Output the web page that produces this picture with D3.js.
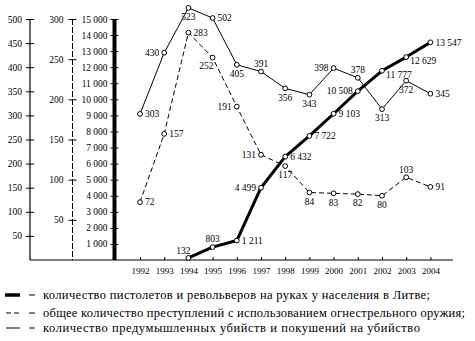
<!DOCTYPE html>
<html>
<head>
<meta charset="utf-8">
<script src="https://cdn.jsdelivr.net/npm/d3@7"></script>
<style>
  body { margin: 0; background: #fff; }
</style>
</head>
<body>
<div id="chart"></div>
<script>
// years on the bottom axis
var years = [1992, 1993, 1994, 1995, 1996, 1997, 1998, 1999, 2000, 2001, 2002, 2003, 2004];
// premeditated murders and attempts (left axis, 0-500)
var murders = [303, 430, 523, 502, 405, 391, 356, 343, 398, 378, 313, 372, 345];
// crimes with firearms (middle axis, 0-300)
var crimes = [72, 157, 283, 252, 191, 131, 117, 84, 83, 82, 80, 103, 91];
// pistols and revolvers held by population (thick axis, 0-15000)
var gunYears = [1994, 1995, 1996, 1997, 1998, 1999, 2000, 2001, 2002, 2003, 2004];
var guns = [132, 803, 1211, 4499, 6432, 7722, 9103, 10508, 11777, 12629, 13547];

var murderTicks = [50, 100, 150, 200, 250, 300, 350, 400, 450, 500];
var crimeTicks = [50, 100, 150, 200, 250, 300];
var gunTicks = d3.range(1000, 15001, 1000);

// where each value label sits relative to its point
var murderLabelPos = ['r', 'l', 'b', 'r', 'b', 't', 'b', 'b', 'l', 't', 'b', 'b', 'r'];
var crimeLabelPos = ['r', 'r', 'r', 'bl', 'l', 'l', 'b', 'b', 'b', 'b', 'b', 't', 'r'];
var gunLabelPos = ['tl', 't', 'r', 'l', 'r', 'r', 'r', 'l', 'br', 'br', 'r'];

var legendLabels = [
  "количество пистолетов и револьверов на руках у населения в Литве;",
  "общее количество преступлений с использованием огнестрельного оружия;",
  "количество предумышленных убийств и покушений на убийство"
];

var FONT = "'Liberation Serif', 'Times New Roman', serif";
var fmt = d3.formatLocale({decimal: ",", thousands: " ", grouping: [3], currency: ["", ""]}).format(",d");

var width = 475, height = 341;
var yTop = 19, yBottom = 260;

var svg = d3.select("#chart").append("svg")
  .attr("width", width)
  .attr("height", height)
  .style("font-family", FONT);

var x = d3.scaleLinear().domain([1992, 2004]).range([140, 430.4]);
var yMurders = d3.scaleLinear().domain([0, 500]).range([yBottom, yTop]);
var yCrimes = d3.scaleLinear().domain([0, 300]).range([yBottom, yTop]);
var yGuns = d3.scaleLinear().domain([0, 15000]).range([yBottom, yTop]);

// vertical axes with ticks crossing the line
function drawAxis(xpos, scale, ticks, labelX, format, lineStyle) {
  var g = svg.append("g").attr("transform", "translate(" + xpos + ",0)");
  g.call(d3.axisLeft(scale).tickValues(ticks).tickSizeOuter(0).tickFormat(format));
  g.select(".domain").remove();
  g.selectAll(".tick line")
    .attr("x1", -4).attr("x2", 4)
    .attr("stroke", "#000");
  g.selectAll(".tick text")
    .attr("x", labelX)
    .attr("font-size", 9.5)
    .style("font-family", FONT);
  var line = g.append("line")
    .attr("x1", 0).attr("x2", 0)
    .attr("y1", scale.range()[1]).attr("y2", yBottom)
    .attr("stroke", "#000");
  lineStyle(line);
  return g;
}

drawAxis(30, yMurders, murderTicks, -8, d3.format("d"), function(l) { l.attr("stroke-width", 1.2); });
drawAxis(72.5, yCrimes, crimeTicks, -9, d3.format("d"), function(l) { l.attr("stroke-width", 1).attr("stroke-dasharray", "6,2"); });
drawAxis(114.5, yGuns, gunTicks, -7, fmt, function(l) { l.attr("stroke-width", 4); });

// bottom axis
var xg = svg.append("g").attr("transform", "translate(0," + yBottom + ")");
xg.call(d3.axisBottom(x).tickValues(years).tickFormat(d3.format("d")).tickSizeInner(-3).tickSizeOuter(0).tickPadding(8));
xg.select(".domain").remove();
xg.selectAll(".tick text").attr("font-size", 9).style("font-family", FONT);
xg.append("line")
  .attr("x1", 30).attr("x2", 453)
  .attr("y1", 0).attr("y2", 0)
  .attr("stroke", "#000").attr("stroke-width", 1.2);

var labelOffsets = {
  r: [5, 0, "start"],
  l: [-5, 0, "end"],
  t: [0, -8, "middle"],
  b: [0, 9, "middle"],
  tl: [2, -7, "end"],
  bl: [1, 8, "end"],
  br: [4, 4, "start"]
};

function drawSeries(xs, values, yscale, positions, style) {
  var data = xs.map(function(d, i) { return {year: d, value: values[i], pos: positions[i]}; });
  var line = d3.line()
    .x(function(d) { return x(d.year); })
    .y(function(d) { return yscale(d.value); });

  var path = svg.append("path")
    .datum(data)
    .attr("fill", "none")
    .attr("stroke", "#000")
    .attr("stroke-linejoin", "round")
    .attr("d", line);
  style(path);

  svg.append("g").selectAll("circle")
    .data(data)
    .join("circle")
      .attr("cx", function(d) { return x(d.year); })
      .attr("cy", function(d) { return yscale(d.value); })
      .attr("r", 2.4)
      .attr("fill", "#fff")
      .attr("stroke", "#000")
      .attr("stroke-width", 1);

  svg.append("g").selectAll("text")
    .data(data)
    .join("text")
      .attr("x", function(d) { return x(d.year) + labelOffsets[d.pos][0]; })
      .attr("y", function(d) { return yscale(d.value) + labelOffsets[d.pos][1]; })
      .attr("dy", "0.35em")
      .attr("text-anchor", function(d) { return labelOffsets[d.pos][2]; })
      .attr("font-size", 9.5)
      .style("font-family", FONT)
      .text(function(d) { return fmt(d.value); });
}

drawSeries(years, murders, yMurders, murderLabelPos, function(p) { p.attr("stroke-width", 1); });
drawSeries(years, crimes, yCrimes, crimeLabelPos, function(p) { p.attr("stroke-width", 1).attr("stroke-dasharray", "5,3"); });
drawSeries(gunYears, guns, yGuns, gunLabelPos, function(p) { p.attr("stroke-width", 3); });

// legend
var legendY = [295, 313, 328];
var legendEnds = [430, 465, 420];
var lg = svg.append("g");
legendLabels.forEach(function(label, i) {
  var y = legendY[i];
  var sw = lg.append("line")
    .attr("x1", 5).attr("x2", 20)
    .attr("y1", y).attr("y2", y)
    .attr("stroke", "#000");
  if (i == 0) sw.attr("stroke-width", 3.5);
  if (i == 1) sw.attr("x1", 6).attr("stroke-width", 1).attr("stroke-dasharray", "5,3");
  if (i == 2) sw.attr("x1", 6).attr("stroke-width", 1);
  lg.append("line")
    .attr("x1", 29).attr("x2", 35)
    .attr("y1", y).attr("y2", y)
    .attr("stroke", "#000").attr("stroke-width", 1);
  lg.append("text")
    .attr("x", 43)
    .attr("y", y)
    .attr("dy", "0.35em")
    .attr("font-size", 12.5)
    .attr("textLength", legendEnds[i] - 43)
    .attr("lengthAdjust", "spacing")
    .style("font-family", FONT)
    .text(label);
});
</script>
</body>
</html>
